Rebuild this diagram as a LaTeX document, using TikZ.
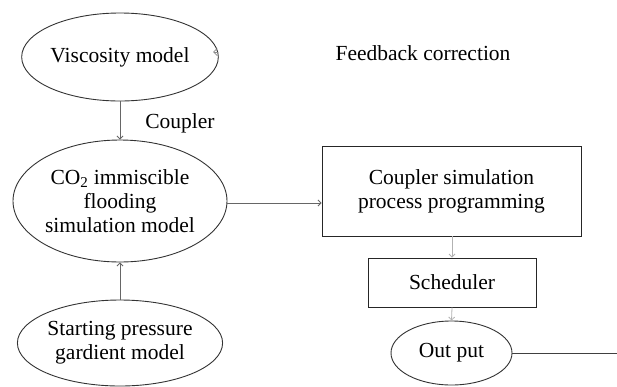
\documentclass[tikz,border=0pt]{standalone}
\usepackage{fontspec}
\setmainfont{Liberation Serif}
\usetikzlibrary{shapes.geometric,arrows.meta}
\begin{document}
\begin{tikzpicture}[x=1pt,y=-1pt,
  every node/.style={font=\fontsize{21.5}{24}\selectfont, align=center, inner sep=0pt},
  oval/.style={ellipse, draw=black!80, line width=0.9pt},
  box/.style={rectangle, draw=black!85, line width=0.9pt},
  flow/.style={draw=black!60, line width=0.9pt, -{Straight Barb[length=3pt,width=6pt]}},
  faint/.style={draw=black!30, line width=0.8pt, -{Straight Barb[length=3pt,width=6pt]}},
  plain/.style={draw=black!75, line width=0.9pt}]
\useasboundingbox (0,0) rectangle (617,386);

% left column: models
\node[oval, minimum width=181pt, minimum height=88pt] (visc) at (120,57) {Viscosity model};
\node[oval, minimum width=214pt, minimum height=122pt] (co2) at (120,201)
  {CO\textsubscript{2} immiscible\\flooding\\simulation model};
\node[oval, minimum width=181pt, minimum height=86pt] (start) at (120,343)
  {Starting pressure\\gardient model};
\node (coupler) at (180,123) {Coupler};

% right column: program flow
\node[box, minimum width=259pt, minimum height=90pt] (prog) at (451.5,191)
  {Coupler simulation\\process programming};
\node[box, minimum width=168pt, minimum height=49pt] (sched) at (452,282.5) {Scheduler};
\node[oval, minimum width=121pt, minimum height=64pt] (out) at (451.5,353) {Out put};
\node (fb) at (423,53) {Feedback correction};

% connectors
\draw[flow] (visc.south) -- (co2.north);
\draw[flow] (start.north) -- (co2.south);
\draw[flow] ([yshift=-2pt]co2.east) -- ([yshift=-2pt]co2.east -| prog.west);
\draw[faint] (prog.south -| sched.north) -- (sched.north);
\draw[faint] (sched.south) -- (out.north);
\coordinate (fbend) at (617,353);
\draw[plain] (out.east) -- (fbend);
\coordinate (fbin) at (218,52);
\draw[draw=black!45, line width=0.8pt, -{Straight Barb[length=3.5pt,width=7pt]}] (fbin) -- (213,52);
\end{tikzpicture}
\end{document}
